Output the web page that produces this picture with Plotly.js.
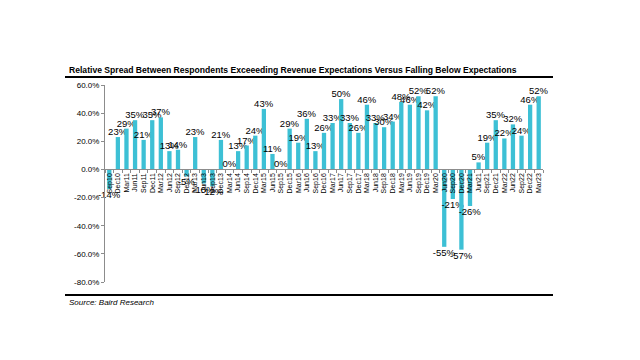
<!DOCTYPE html>
<html>
<head>
<meta charset="utf-8">
<script src="https://cdn.plot.ly/plotly-3.0.1.min.js"></script>
<style>html,body{margin:0;padding:0;background:#fff;}#chart{width:640px;height:360px;}</style>
</head>
<body>
<div id="chart"></div>
<script>
const quarters = ["Sep10","Dec10","Mar11","Jun11","Sep11","Dec11","Mar12","Jun12","Sep12","Dec12",
  "Mar13","Jun13","Sep13","Dec13","Mar14","Jun14","Sep14","Dec14","Mar15","Jun15",
  "Sep15","Dec15","Mar16","Jun16","Sep16","Dec16","Mar17","Jun17","Sep17","Dec17",
  "Mar18","Jun18","Sep18","Dec18","Mar19","Jun19","Sep19","Dec19","Mar20","Jun20",
  "Sep20","Dec20","Mar21","Jun21","Sep21","Dec21","Mar22","Jun22","Sep22","Dec22","Mar23"];
const spread = [-14,23,29,35,21,35,37,13,14,-5,
  23,-10,-12,21,0,13,17,24,43,11,
  0,29,19,36,13,26,33,50,33,26,
  46,33,30,34,48,46,52,42,52,-55,
  -21,-57,-26,5,19,35,22,32,24,46,52];
const yTicks = [-80,-60,-40,-20,0,20,40,60];
const titleText = "Relative Spread Between Respondents Exceeeding Revenue Expectations Versus Falling Below Expectations";
const sourceText = "Source: Baird Research";

const trace = {
  type: 'bar',
  x: quarters,
  y: spread,
  marker: {color: '#3DC0D5'},
  text: spread.map(v => v + '%'),
  textposition: 'outside',
  textangle: 0,
  constraintext: 'none',
  cliponaxis: false,
  textfont: {family: 'Liberation Sans, Arial, sans-serif', size: 9.5, color: '#000'},
  hoverinfo: 'none'
};

const layout = {
  width: 640, height: 360,
  margin: {l: 105, r: 97, t: 85, b: 78},
  paper_bgcolor: '#fff', plot_bgcolor: 'rgba(0,0,0,0)',
  showlegend: false,
  bargap: 0.5,
  font: {family: 'Liberation Sans, Arial, sans-serif', color: '#000'},
  xaxis: {
    type: 'category',
    anchor: 'free',
    position: 80/140,
    showline: true, linecolor: '#8c8c8c', linewidth: 1,
    ticks: 'outside', ticklen: 3, tickcolor: '#8c8c8c', tickson: 'boundaries',
    tickangle: -90,
    tickfont: {size: 7, color: '#000'},
    showgrid: false, zeroline: false,
    automargin: false
  },
  yaxis: {
    range: [-80, 60],
    tickvals: yTicks,
    ticktext: yTicks.map(v => v.toFixed(1) + '%'),
    showline: true, linecolor: '#8c8c8c', linewidth: 1,
    ticks: 'outside', ticklen: 3, tickcolor: '#8c8c8c',
    tickfont: {size: 8, color: '#000'},
    showgrid: false, zeroline: false,
    automargin: false
  },
  shapes: [
    {type: 'line', xref: 'paper', yref: 'paper', x0: -40/438, x1: 448/438, y0: (282-77)/197, y1: (282-77)/197,
     line: {color: '#000', width: 2}},
    {type: 'line', xref: 'paper', yref: 'paper', x0: -40/438, x1: 448/438, y0: (282-295)/197, y1: (282-295)/197,
     line: {color: '#000', width: 2}}
  ],
  annotations: [
    {xref: 'paper', yref: 'paper', x: -38/438, y: (282-70.5)/197, xanchor: 'left', yanchor: 'middle',
     text: '<b>' + titleText + '</b>', showarrow: false,
     font: {size: 8.6, color: '#000'}},
    {xref: 'paper', yref: 'paper', x: -38/438, y: (282-302.5)/197, xanchor: 'left', yanchor: 'middle',
     text: '<i>' + sourceText + '</i>', showarrow: false,
     font: {size: 8, color: '#000'}}
  ]
};

Plotly.newPlot('chart', [trace], layout, {staticPlot: true, displayModeBar: false});
</script>
</body>
</html>
